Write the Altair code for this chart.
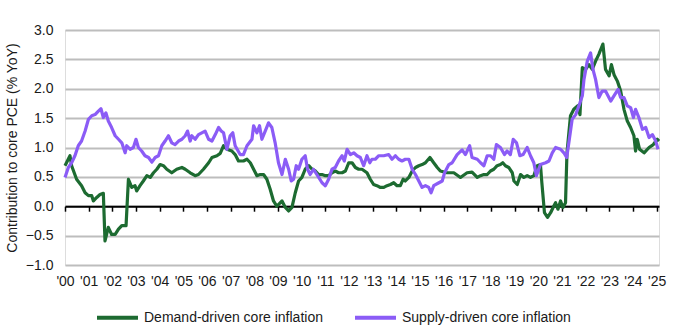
import altair as alt
import pandas as pd

SERIES = ["Demand-driven core inflation", "Supply-driven core inflation"]
COLORS = ["#1d6b31", "#8b5cf6"]
YEAR_TICKS = list(range(2000, 2026))

demand_t = [2000.0, 2000.21, 2000.28, 2000.49, 2000.7, 2000.85, 2000.99, 2001.13, 2001.2, 2001.34,
            2001.48, 2001.62, 2001.69, 2001.83, 2001.97, 2002.12, 2002.26, 2002.4, 2002.58, 2002.68,
            2002.82, 2002.96, 2003.03, 2003.17, 2003.31, 2003.46, 2003.6, 2003.74, 2003.88, 2004.02,
            2004.16, 2004.3, 2004.51, 2004.72, 2004.94, 2005.08, 2005.29, 2005.5, 2005.64, 2005.85,
            2006.07, 2006.21, 2006.42, 2006.56, 2006.7, 2006.84, 2007.05, 2007.19, 2007.33, 2007.54,
            2007.69, 2007.83, 2007.97, 2008.11, 2008.25, 2008.39, 2008.53, 2008.67, 2008.81, 2008.95,
            2009.07, 2009.17, 2009.31, 2009.45, 2009.59, 2009.73, 2009.87, 2010.01, 2010.15, 2010.3,
            2010.44, 2010.58, 2010.72, 2010.86, 2011.0, 2011.14, 2011.28, 2011.42, 2011.56, 2011.71,
            2011.85, 2011.99, 2012.13, 2012.27, 2012.41, 2012.55, 2012.76, 2012.9, 2013.04, 2013.18,
            2013.33, 2013.47, 2013.61, 2013.75, 2013.89, 2014.03, 2014.17, 2014.29, 2014.38, 2014.53,
            2014.67, 2014.81, 2014.95, 2015.09, 2015.23, 2015.42, 2015.58, 2015.73, 2015.86, 2016.14,
            2016.43, 2016.71, 2016.99, 2017.2, 2017.42, 2017.56, 2017.7, 2017.84, 2017.98, 2018.12,
            2018.26, 2018.4, 2018.5, 2018.61, 2018.75, 2018.9, 2018.97, 2019.11, 2019.25, 2019.39,
            2019.53, 2019.67, 2019.81, 2019.95, 2020.09, 2020.15, 2020.26, 2020.39, 2020.52, 2020.65,
            2020.73, 2020.83, 2020.94, 2021.04, 2021.15, 2021.21, 2021.36, 2021.5, 2021.67, 2021.76,
            2021.86, 2022.0, 2022.14, 2022.28, 2022.42, 2022.56, 2022.73, 2022.84, 2022.99, 2023.09,
            2023.2, 2023.34, 2023.48, 2023.62, 2023.76, 2023.9, 2024.04, 2024.11, 2024.18, 2024.28,
            2024.47, 2024.68, 2024.86, 2025.03, 2025.1]
demand_v = [0.69, 0.86, 0.69, 0.46, 0.35, 0.23, 0.18, 0.18, 0.09, 0.15,
            0.2, 0.22, -0.59, -0.36, -0.48, -0.48, -0.39, -0.33, -0.33, 0.46,
            0.32, 0.35, 0.26, 0.35, 0.43, 0.52, 0.49, 0.57, 0.63, 0.71,
            0.69, 0.63, 0.57, 0.63, 0.66, 0.63, 0.57, 0.52, 0.54, 0.63,
            0.74, 0.83, 0.86, 0.9, 1.03, 0.97, 0.94, 0.88, 0.77, 0.77,
            0.8, 0.74, 0.63, 0.52, 0.54, 0.54, 0.46, 0.29, 0.09, 0.0,
            0.05, 0.09, -0.02, -0.08, -0.02, 0.23, 0.43, 0.49, 0.63, 0.69,
            0.63, 0.6, 0.54, 0.54, 0.52, 0.52, 0.57, 0.6, 0.57, 0.57,
            0.6, 0.74, 0.74, 0.66, 0.63, 0.63, 0.57, 0.46, 0.37, 0.35,
            0.32, 0.32, 0.35, 0.37, 0.4, 0.35, 0.35, 0.46, 0.43, 0.49,
            0.6, 0.66, 0.69, 0.71, 0.74, 0.83, 0.74, 0.66, 0.6, 0.57,
            0.57, 0.49, 0.57, 0.58, 0.49, 0.52, 0.54, 0.54, 0.6, 0.63,
            0.69, 0.71, 0.74, 0.69, 0.66, 0.57, 0.43, 0.37, 0.54, 0.49,
            0.52, 0.49, 0.52, 0.69, 0.71, 0.4, -0.11, -0.19, -0.11, 0.0,
            0.06, -0.05, 0.09, -0.02, 0.06, 0.9, 1.54, 1.65, 1.71, 1.56,
            2.36, 2.33, 2.41, 2.33, 2.47, 2.59, 2.76, 2.33, 2.22, 2.41,
            2.24, 2.13, 1.96, 1.65, 1.45, 1.34, 1.2, 0.94, 1.14, 0.97,
            0.91, 1.0, 1.05, 1.14, 1.11]

supply_t = [2000.0, 2000.14, 2000.28, 2000.42, 2000.56, 2000.7, 2000.85, 2000.99, 2001.13, 2001.27,
            2001.41, 2001.52, 2001.62, 2001.73, 2001.83, 2001.97, 2002.12, 2002.26, 2002.4, 2002.54,
            2002.61, 2002.75, 2002.89, 2003.0, 2003.1, 2003.24, 2003.38, 2003.53, 2003.67, 2003.81,
            2003.95, 2004.09, 2004.23, 2004.37, 2004.51, 2004.65, 2004.8, 2004.94, 2005.08, 2005.18,
            2005.29, 2005.36, 2005.5, 2005.64, 2005.78, 2005.92, 2006.07, 2006.21, 2006.35, 2006.49,
            2006.6, 2006.7, 2006.84, 2006.98, 2007.09, 2007.19, 2007.4, 2007.54, 2007.69, 2007.9,
            2007.97, 2008.11, 2008.22, 2008.32, 2008.46, 2008.6, 2008.74, 2008.88, 2009.02, 2009.17,
            2009.31, 2009.45, 2009.56, 2009.66, 2009.77, 2009.87, 2010.01, 2010.15, 2010.25, 2010.36,
            2010.5, 2010.72, 2010.86, 2011.0, 2011.14, 2011.28, 2011.42, 2011.56, 2011.71, 2011.8,
            2011.92, 2012.06, 2012.2, 2012.34, 2012.48, 2012.62, 2012.76, 2012.88, 2012.97, 2013.11,
            2013.26, 2013.47, 2013.68, 2013.82, 2013.96, 2014.1, 2014.24, 2014.38, 2014.53, 2014.67,
            2014.81, 2014.95, 2015.09, 2015.23, 2015.37, 2015.47, 2015.58, 2015.8, 2015.94, 2016.04,
            2016.22, 2016.36, 2016.57, 2016.78, 2016.92, 2017.1, 2017.2, 2017.42, 2017.56, 2017.7,
            2017.84, 2017.98, 2018.12, 2018.23, 2018.4, 2018.57, 2018.68, 2018.82, 2018.94, 2019.08,
            2019.22, 2019.36, 2019.53, 2019.67, 2019.81, 2019.92, 2020.09, 2020.31, 2020.45, 2020.59,
            2020.73, 2020.94, 2021.08, 2021.2, 2021.29, 2021.43, 2021.58, 2021.76, 2021.86, 2021.93,
            2022.07, 2022.21, 2022.31, 2022.42, 2022.56, 2022.7, 2022.84, 2023.06, 2023.23, 2023.37,
            2023.48, 2023.62, 2023.76, 2023.9, 2024.02, 2024.11, 2024.25, 2024.4, 2024.54, 2024.68,
            2024.82, 2024.96, 2025.06]
supply_v = [0.49, 0.66, 0.74, 0.86, 1.03, 1.11, 1.28, 1.48, 1.54, 1.56,
            1.62, 1.66, 1.51, 1.59, 1.45, 1.34, 1.2, 1.14, 1.08, 0.91,
            1.03, 0.97, 1.0, 1.14, 1.0, 0.94, 0.86, 0.83, 0.75, 0.83,
            0.86, 1.03, 1.11, 1.2, 1.08, 1.05, 1.11, 1.14, 1.2, 1.28,
            1.11, 1.2, 1.14, 1.22, 1.25, 1.28, 1.14, 1.11, 1.22, 1.34,
            1.28, 1.25, 0.97, 1.2, 1.25, 1.03, 0.88, 0.88, 1.03, 1.14,
            1.37, 1.25, 1.37, 1.14, 1.28, 1.42, 1.34, 1.08, 0.74, 0.54,
            0.8, 0.63, 0.43, 0.46, 0.69, 0.63, 0.8, 0.86, 0.63, 0.54,
            0.63, 0.49, 0.4, 0.35, 0.46, 0.63, 0.66, 0.77, 0.86, 0.77,
            0.97, 0.88, 0.91, 0.86, 0.83, 0.69, 0.86, 0.74, 0.8, 0.8,
            0.86, 0.86, 0.88, 0.8, 0.86, 0.8, 0.77, 0.8, 0.8, 0.63,
            0.54, 0.43, 0.32, 0.35, 0.32, 0.23, 0.35, 0.4, 0.43, 0.57,
            0.71, 0.74, 0.88, 0.96, 0.88, 1.03, 0.83, 0.8, 0.74, 0.69,
            0.86, 0.86, 0.8, 1.05, 1.0, 0.88, 0.94, 0.88, 1.14, 1.08,
            0.86, 0.88, 1.0, 0.86, 0.74, 0.52, 0.71, 0.74, 0.77, 0.91,
            1.0, 0.97, 0.91, 0.83, 1.08, 1.48, 1.56, 1.76, 1.88, 2.16,
            2.47, 2.61, 2.33, 2.16, 1.85, 1.96, 1.96, 1.79, 1.9, 1.99,
            1.85, 1.85, 1.71, 1.68, 1.51, 1.65, 1.51, 1.31, 1.34, 1.17,
            1.22, 1.11, 0.97]

df = pd.concat([
    pd.DataFrame({"t": demand_t, "v": demand_v, "series": SERIES[0]}),
    pd.DataFrame({"t": supply_t, "v": supply_v, "series": SERIES[1]}),
], ignore_index=True)

FONT = "Liberation Sans"

chart = alt.Chart(df).mark_line(strokeWidth=3.2, strokeJoin="round").encode(
    x=alt.X("t:Q",
            scale=alt.Scale(domain=[2000, 2025.1], nice=False, zero=False),
            axis=alt.Axis(values=YEAR_TICKS, format="d",
                          labelExpr="\"'\" + slice(datum.label, 2)",
                          title=None, grid=False, offset=-58.8,
                          domainColor="#000000", domainWidth=2,
                          tickColor="#000000", tickWidth=1.5, tickSize=5,
                          labelPadding=63, labelFontSize=14, labelFont=FONT,
                          labelColor="#1a1a1a", labelFlush=False, labelOverlap=False)),
    y=alt.Y("v:Q",
            scale=alt.Scale(domain=[-1, 3], nice=False),
            axis=alt.Axis(values=[-1, -0.5, 0, 0.5, 1, 1.5, 2, 2.5, 3], format=".1f",
                          title="Contribution to core PCE (% YoY)", titleFont=FONT,
                          titleFontSize=14, titleFontWeight="normal", titleColor="#1a1a1a",
                          titlePadding=6,
                          domain=False, ticks=False, labelPadding=12,
                          labelFontSize=14, labelFont=FONT, labelColor="#1a1a1a",
                          grid=True, gridColor="#bdbdbd", gridWidth=1.8)),
    color=alt.Color("series:N",
                    scale=alt.Scale(domain=SERIES, range=COLORS),
                    legend=alt.Legend(title=None, orient="none", legendX=30, legendY=265,
                                      direction="horizontal", symbolType="stroke",
                                      symbolSize=1681, symbolStrokeWidth=4,
                                      labelFont=FONT, labelFontSize=14, labelColor="#1a1a1a",
                                      labelLimit=0, labelOffset=4, columnPadding=24)),
).properties(
    width=594, height=235,
    autosize=alt.AutoSizeParams(type="none"),
    padding={"left": 65, "top": 30, "right": 17, "bottom": 67},
).configure_view(stroke=None).configure(background="white")

chart.save("out.html", embed_options={"renderer": "svg", "actions": False})
